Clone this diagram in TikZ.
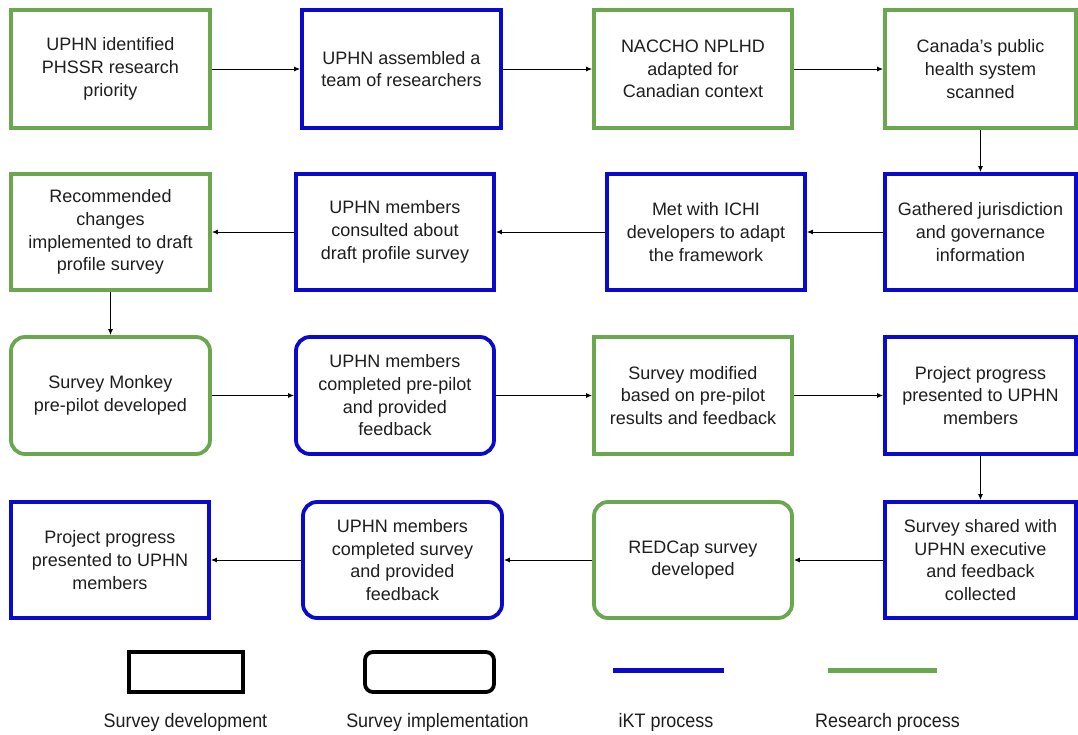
\documentclass[tikz,border=0pt]{standalone}
\usepackage{fontspec}
\usepackage{graphicx}
\setmainfont{Liberation Sans}
\usetikzlibrary{arrows.meta}
\definecolor{rgreen}{RGB}{106,168,79}
\definecolor{ikblue}{RGB}{10,10,205}
\definecolor{txt}{RGB}{30,30,30}
\tikzset{
  box/.style={draw, line width=3.8pt, align=center, inner sep=0pt, text=txt,
    font=\fontsize{18}{22.7}\selectfont},
  res/.style={box, draw=rgreen},
  ikt/.style={box, draw=ikblue},
  rnd/.style={rounded corners=14pt},
  conn/.style={draw=black, line width=1pt, -{Latex[length=6pt,width=5pt]}},
  leg/.style={font=\fontsize{19.5}{22}\selectfont, text=txt, inner sep=0pt},
  legbox/.style={draw=black, line width=3.8pt, inner sep=0pt, minimum height=40pt},
}
\begin{document}
\begin{tikzpicture}[x=1pt,y=-1pt]
\useasboundingbox (0,0) rectangle (1078,734);
\fill[white] (0,0) rectangle (1078,734);

% Row 1
\node[res, minimum width=199pt, minimum height=118pt] (a1) at (110.5,69) {UPHN identified\\PHSSR research\\priority};
\node[ikt, minimum width=199pt, minimum height=118pt] (a2) at (401.5,69) {UPHN assembled a\\team of researchers};
\node[res, minimum width=198pt, minimum height=118pt] (a3) at (693,69) {NACCHO NPLHD\\adapted for\\Canadian context};
\node[res, minimum width=191pt, minimum height=118pt] (a4) at (980.5,69) {Canada's public\\health system\\scanned};

% Row 2
\node[ikt, minimum width=191pt, minimum height=116pt] (b4) at (980.5,232) {Gathered jurisdiction\\and governance\\information};
\node[ikt, minimum width=198pt, minimum height=116pt] (b3) at (706,232) {Met with ICHI\\developers to adapt\\the framework};
\node[ikt, minimum width=198pt, minimum height=116pt] (b2) at (395,232) {UPHN members\\consulted about\\draft profile survey};
\node[res, minimum width=199pt, minimum height=116pt] (b1) at (110.5,232) {Recommended\\changes\\implemented to draft\\profile survey};

% Row 3
\node[res, rnd, minimum width=199pt, minimum height=117pt] (c1) at (110.5,395.5) {Survey Monkey\\pre-pilot developed};
\node[ikt, rnd, minimum width=198pt, minimum height=117pt] (c2) at (395,395.5) {UPHN members\\completed pre-pilot\\and provided\\feedback};
\node[res, minimum width=198pt, minimum height=117pt] (c3) at (693,395.5) {Survey modified\\based on pre-pilot\\results and feedback};
\node[ikt, minimum width=191pt, minimum height=117pt] (c4) at (980.5,395.5) {Project progress\\presented to UPHN\\members};

% Row 4
\node[ikt, minimum width=191pt, minimum height=116pt] (d4) at (980.5,560) {Survey shared with\\UPHN executive\\and feedback\\collected};
\node[res, rnd, minimum width=198pt, minimum height=116pt] (d3) at (693,560) {REDCap survey\\developed};
\node[ikt, rnd, minimum width=199pt, minimum height=116pt] (d2) at (402.5,560) {UPHN members\\completed survey\\and provided\\feedback};
\node[ikt, minimum width=198pt, minimum height=116pt] (d1) at (110,560) {Project progress\\presented to UPHN\\members};

% Connectors
\draw[conn] (a1) -- (a2);
\draw[conn] (a2) -- (a3);
\draw[conn] (a3) -- (a4);
\draw[conn] (a4) -- (b4);
\draw[conn] (b4) -- (b3);
\draw[conn] (b3) -- (b2);
\draw[conn] (b2) -- (b1);
\draw[conn] (b1) -- (c1);
\draw[conn] (c1) -- (c2);
\draw[conn] (c2) -- (c3);
\draw[conn] (c3) -- (c4);
\draw[conn] (c4) -- (d4);
\draw[conn] (d4) -- (d3);
\draw[conn] (d3) -- (d2);
\draw[conn] (d2) -- (d1);

% Legend
\node[legbox, minimum width=114pt] (l1) at (186,672) {};
\node[legbox, rounded corners=8pt, minimum width=129pt] (l2) at (429.5,672) {};
\coordinate (lb1) at (613,670);
\coordinate (lb2) at (724,670);
\draw[ikblue, line width=5pt] (lb1) -- (lb2);
\coordinate (lg1) at (828,670);
\coordinate (lg2) at (937,670);
\draw[rgreen, line width=5pt] (lg1) -- (lg2);

\node[leg] (t1) at (185.5,722) {\scalebox{0.92}[1]{Survey development}};
\node[leg] (t2) at (437.5,722) {\scalebox{0.92}[1]{Survey implementation}};
\node[leg] (t3) at (666,722) {\scalebox{0.92}[1]{iKT process}};
\node[leg] (t4) at (887.5,722) {\scalebox{0.92}[1]{Research process}};
\end{tikzpicture}
\end{document}
